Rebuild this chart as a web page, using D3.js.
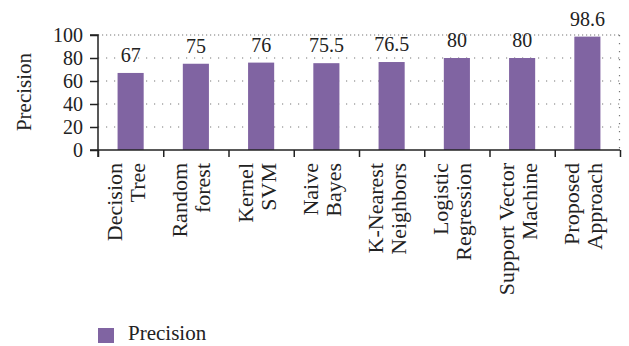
<!DOCTYPE html>
<html><head><meta charset="utf-8">
<script src="https://cdn.jsdelivr.net/npm/d3@7"></script>
<style>body{margin:0;background:#fff;} svg{display:block;}</style>
</head><body>
<svg id="c" width="629" height="346"></svg>
<script>
const categories = [["Decision","Tree"],["Random","forest"],["Kernel","SVM"],["Naive","Bayes"],["K-Nearest","Neighbors"],["Logistic","Regression"],["Support Vector","Machine"],["Proposed","Approach"]];
const values = [67, 75, 76, 75.5, 76.5, 80, 80, 98.6];
const valueLabels = ["67","75","76","75.5","76.5","80","80","98.6"];
const yTicks = [0,20,40,60,80,100];
const seriesName = "Precision";
const color = "#8064A2";
const font = "'Liberation Serif', 'Times New Roman', serif";

const svg = d3.select("#c");
const m = {l:98, r:9, t:35, b:196};
const W = 629, H = 346;
const x = d3.scaleBand().domain(d3.range(categories.length)).range([m.l, W-m.r]).paddingInner(0.6).paddingOuter(0.3);
const xb = d3.scaleLinear().domain([0, categories.length]).range([m.l, W-m.r]);
const y = d3.scaleLinear().domain([0,100]).range([150, 35]);

// grid
const g = svg.append("g");
g.selectAll("line.grid").data(yTicks.filter(d=>d>0 && d<100)).join("line")
  .attr("x1", m.l).attr("x2", W-m.r).attr("y1", d=>y(d)).attr("y2", d=>y(d))
  .attr("stroke","#777").attr("stroke-width",1.2).attr("stroke-dasharray","1.2,6.8");
g.append("line").attr("x1", m.l).attr("x2", W-m.r).attr("y1", y(100)).attr("y2", y(100))
  .attr("stroke","#777").attr("stroke-width",1.2).attr("stroke-dasharray","1.2,2.8");
g.append("line").attr("x1", W-m.r-0.5).attr("x2", W-m.r-0.5).attr("y1", y(100)).attr("y2", y(0))
  .attr("stroke","#777").attr("stroke-width",1.2).attr("stroke-dasharray","1.2,6.8");

// bars
svg.selectAll("rect.bar").data(values).join("rect")
  .attr("x",(d,i)=>x(i)).attr("width",x.bandwidth())
  .attr("y",d=>y(d)).attr("height",d=>y(0)-y(d)).attr("fill",color);

// value labels
svg.selectAll("text.val").data(values).join("text")
  .attr("x",(d,i)=>x(i)+x.bandwidth()/2).attr("y",d=>y(d)-11)
  .attr("text-anchor","middle").attr("font-family",font).attr("font-size",20).attr("fill","#222")
  .text((d,i)=>valueLabels[i]);

// y axis
const ya = svg.append("g").attr("transform",`translate(${m.l},0)`)
  .call(d3.axisLeft(y).tickValues(yTicks).tickSize(8).tickPadding(7));
ya.select(".domain").attr("stroke","#222").attr("stroke-width",1.5).attr("d",`M-8,${y(100)}H0V${y(0)+7}`);
ya.selectAll(".tick line").attr("stroke","#222").attr("stroke-width",1.5);
ya.selectAll(".tick text").attr("font-family",font).attr("font-size",20).attr("fill","#222");

// x axis
const xa = svg.append("g").attr("transform",`translate(0,${y(0)})`)
  .call(d3.axisBottom(xb).tickValues(d3.range(categories.length+1)).tickSize(7).tickFormat(""));
xa.select(".domain").attr("stroke","#222").attr("stroke-width",1.5).attr("d",`M${m.l-8},0H${W-m.r}`);
xa.selectAll(".tick line").attr("stroke","#222").attr("stroke-width",1.5);

// x labels
const lab = svg.selectAll("g.xl").data(categories).join("g")
  .attr("transform",(d,i)=>`translate(${x(i)+x.bandwidth()/2},163) rotate(-90)`);
lab.each(function(d){
  const t = d3.select(this);
  t.append("text").attr("x",0).attr("y",-8.5).attr("text-anchor","end")
    .attr("font-family",font).attr("font-size",22).attr("fill","#222").text(d[0]);
  t.append("text").attr("x",0).attr("y",14.5).attr("text-anchor","end")
    .attr("font-family",font).attr("font-size",22).attr("fill","#222").text(d[1]);
});

// y title
svg.append("text").attr("transform",`translate(31,92) rotate(-90)`).attr("text-anchor","middle")
  .attr("font-family",font).attr("font-size",21).attr("fill","#222").text(seriesName);

// legend
svg.append("rect").attr("x",98).attr("y",328).attr("width",16).attr("height",15).attr("fill",color);
svg.append("text").attr("x",128).attr("y",340).attr("font-family",font).attr("font-size",21).attr("fill","#222").text(seriesName);
</script>
</body></html>
